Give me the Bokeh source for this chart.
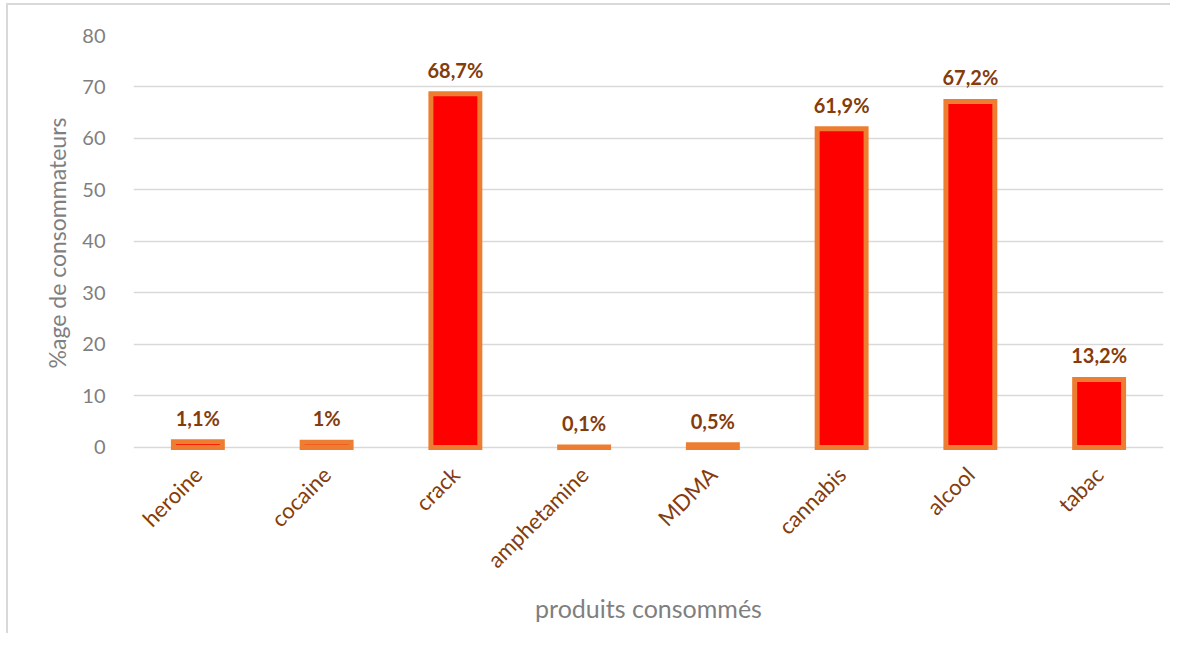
import math
from bokeh.plotting import figure
from bokeh.models import ColumnDataSource, LabelSet
from bokeh.core.properties import value
from bokeh.embed import file_html
from bokeh.resources import INLINE

categories = ["heroine", "cocaine", "crack", "amphetamine", "MDMA", "cannabis", "alcool", "tabac"]
values = [1.1, 1.0, 68.7, 0.1, 0.5, 61.9, 67.2, 13.2]
labels = ["1,1%", "1%", "68,7%", "0,1%", "0,5%", "61,9%", "67,2%", "13,2%"]

FONT = "Lato"
GRAY = "#7F7F7F"
BROWN = "#843C0C"

src = ColumnDataSource(dict(cat=categories, val=values, lab=labels))

p = figure(x_range=categories, y_range=(-0.6, 80), width=1164, height=630,
           output_backend="svg", toolbar_location=None,
           min_border_left=125, min_border_right=9, min_border_top=30, min_border_bottom=185)
p.styles = {"border-left": "2px solid #D9D9D9", "border-top": "2px solid #D9D9D9",
            "margin-left": "6px", "margin-top": "3px"}

p.vbar(x="cat", top="val", bottom=0, width=0.38, source=src,
       fill_color="#FF0000", line_color="#ED7D31", line_width=5, line_join="miter")

p.add_layout(LabelSet(x="cat", y="val", text="lab", source=src, text_align="center",
                      text_baseline="bottom", y_offset=12, text_font=value(FONT),
                      text_font_style="bold", text_font_size="20px", text_color=BROWN))

p.outline_line_color = None
p.xgrid.grid_line_color = None
p.ygrid.grid_line_color = "#D9D9D9"
p.ygrid.grid_line_width = 1.5
p.yaxis.ticker = [0, 10, 20, 30, 40, 50, 60, 70, 80]

for ax in (p.xaxis, p.yaxis):
    ax.axis_line_color = None
    ax.major_tick_line_color = None
    ax.minor_tick_line_color = None
    ax.major_label_text_font = FONT
    ax.axis_label_text_font = FONT
    ax.axis_label_text_font_style = "normal"
    ax.axis_label_text_color = GRAY

p.yaxis.major_label_text_color = GRAY
p.yaxis.major_label_text_font_size = "20px"
p.yaxis.major_label_standoff = 22
p.yaxis.axis_label = "%age de consommateurs"
p.yaxis.axis_label_text_font_size = "23px"
p.yaxis.axis_label_standoff = 8

p.xaxis.major_label_orientation = math.pi / 4
p.xaxis.major_label_text_color = BROWN
p.xaxis.major_label_text_font_size = "22px"
p.xaxis.major_label_standoff = 14
p.xaxis.axis_label = "produits consommés"
p.xaxis.axis_label_text_font_size = "25px"
p.xaxis.axis_label_standoff = 8

open("out.html", "w").write(file_html(p, INLINE))
